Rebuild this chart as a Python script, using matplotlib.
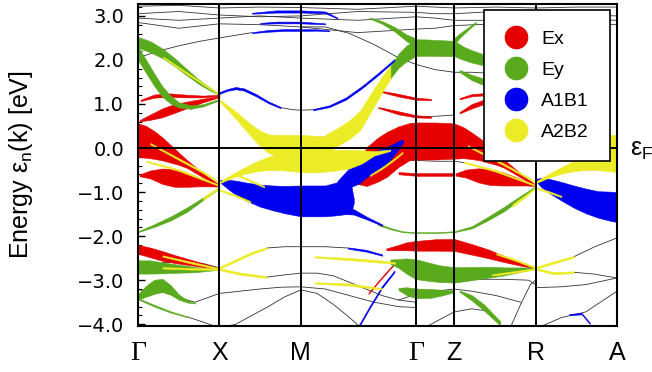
"""Fat-band plot: orbital character (Ex, Ey, A1B1, A2B2) along Γ-X-M-Γ-Z-R-A."""

import matplotlib
matplotlib.use("Agg")
import matplotlib.pyplot as plt
import numpy as np
from matplotlib.lines import Line2D
from matplotlib.ticker import MultipleLocator, FuncFormatter

plt.rcParams["font.family"] = ["Liberation Sans", "DejaVu Sans"]
plt.rcParams["mathtext.fontset"] = "custom"
plt.rcParams["mathtext.rm"] = "Liberation Sans"
plt.rcParams["mathtext.it"] = "Liberation Sans:italic"

OUT = "out.png"

# high-symmetry points (path length, |ΓX| = 1)
KPT_LABELS = ["Γ", "X", "M", "Γ", "Z", "R", "A"]
KPT_POS = [0.0, 1.0, 2.0, 3.414, 3.884, 4.884, 5.884]

ORBITALS = ["Ex", "Ey", "A1B1", "A2B2"]
COLORS = ["#e60000", "#5aaa1e", "#0000f0", "#ecec26"]

# fat bands: (k, E [eV], weight drawn as width [eV])
EX_BANDS = [
    ([0, 0.1, 0.2, 0.3, 0.4, 0.5, 0.6, 0.8, 1.0],
     [0.18, 0.14, 0.07, -0.02, -0.13, -0.24, -0.36, -0.62, -0.85],
     [0.77, 0.72, 0.63, 0.52, 0.4, 0.28, 0.18, 0.09, 0.03]),
    ([0.02, 0.15, 0.3, 0.45, 0.6, 0.75, 0.9, 1.0],
     [-0.62, -0.6, -0.64, -0.68, -0.72, -0.77, -0.83, -0.86],
     [0.04, 0.18, 0.35, 0.4, 0.32, 0.2, 0.08, 0.03]),
    ([0.03, 0.2, 0.4, 0.6, 0.8, 1.0],
     [1.08, 1.18, 1.2, 1.18, 1.17, 1.2],
     [0.03, 0.07, 0.08, 0.06, 0.04, 0.02]),
    ([0.02, 0.15, 0.3, 0.45, 0.6, 0.8, 1.0],
     [0.62, 0.7, 0.8, 0.9, 0.98, 1.08, 1.17],
     [0.03, 0.12, 0.2, 0.2, 0.15, 0.08, 0.03]),
    ([0, 0.15, 0.3, 0.45, 0.6, 0.8, 1.0],
     [-2.3, -2.37, -2.45, -2.52, -2.58, -2.66, -2.74],
     [0.2, 0.22, 0.22, 0.18, 0.14, 0.08, 0.03]),
    ([2.62, 2.72, 2.81, 2.95, 3.06, 3.2, 3.34, 3.414, 3.65, 3.884],
     [-0.75, -0.55, -0.42, -0.26, -0.14, 0.03, 0.15, 0.16, 0.16, 0.16],
     [0.08, 0.55, 0.88, 1.0, 1.02, 0.92, 0.84, 0.84, 0.84, 0.8]),
    ([3.884, 4.0, 4.1, 4.2, 4.3, 4.4, 4.5, 4.7, 4.884],
     [0.16, 0.12, 0.05, -0.03, -0.13, -0.24, -0.36, -0.62, -0.85],
     [0.8, 0.7, 0.6, 0.5, 0.4, 0.28, 0.18, 0.09, 0.03]),
    ([3.9, 4.03, 4.18, 4.33, 4.48, 4.63, 4.78, 4.884],
     [-0.6, -0.58, -0.62, -0.66, -0.7, -0.75, -0.81, -0.85],
     [0.05, 0.18, 0.32, 0.36, 0.3, 0.2, 0.08, 0.03]),
    ([3.2, 3.414, 3.65, 3.884],
     [-0.57, -0.6, -0.6, -0.6],
     [0.05, 0.06, 0.06, 0.06]),
    ([2.95, 3.2, 3.414, 3.6], [1.3, 1.2, 1.12, 1.1], [0.02, 0.06, 0.05, 0.03]),
    ([2.95, 3.2, 3.414, 3.6], [0.92, 0.8, 0.72, 0.7], [0.02, 0.07, 0.05, 0.03]),
    ([3.95, 4.1, 4.25], [0.8, 0.95, 1.05], [0.03, 0.1, 0.1]),
    ([3.95, 4.1, 4.25], [1.12, 1.2, 1.22], [0.03, 0.05, 0.05]),
    ([3.05, 3.2, 3.3, 3.414, 3.65, 3.884],
     [-2.3, -2.26, -2.23, -2.22, -2.2, -2.2],
     [0.04, 0.12, 0.18, 0.22, 0.26, 0.27]),
    ([3.884, 4.1, 4.3, 4.5, 4.7, 4.884],
     [-2.2, -2.3, -2.4, -2.52, -2.63, -2.72],
     [0.27, 0.24, 0.2, 0.14, 0.08, 0.03]),
    ([2.83, 3.0, 3.16], [-3.3, -2.93, -2.6], [0.03, 0.03, 0.03]),
]

EY_BANDS = [
    ([0, 0.15, 0.3, 0.45, 0.6, 0.75, 0.9, 1.0],
     [2.4, 2.3, 2.15, 1.95, 1.72, 1.5, 1.32, 1.22],
     [0.25, 0.25, 0.22, 0.18, 0.14, 0.1, 0.06, 0.03]),
    ([0, 0.1, 0.2, 0.3, 0.4, 0.5, 0.65, 0.8, 1.0],
     [2.15, 1.85, 1.55, 1.28, 1.1, 0.98, 0.93, 0.97, 1.1],
     [0.3, 0.3, 0.28, 0.24, 0.18, 0.12, 0.08, 0.05, 0.03]),
    ([0, 0.2, 0.4, 0.6, 0.8, 1.0],
     [-1.9, -1.76, -1.6, -1.4, -1.15, -0.9],
     [0.02, 0.06, 0.09, 0.1, 0.06, 0.03]),
    ([0, 0.15, 0.3, 0.5, 0.7, 0.85, 1.0],
     [-2.7, -2.7, -2.72, -2.74, -2.76, -2.76, -2.75],
     [0.3, 0.3, 0.25, 0.18, 0.12, 0.06, 0.02]),
    ([0, 0.1, 0.2, 0.3, 0.4, 0.5, 0.6, 0.7],
     [-3.38, -3.25, -3.15, -3.12, -3.22, -3.38, -3.48, -3.52],
     [0.12, 0.25, 0.32, 0.3, 0.22, 0.12, 0.05, 0.02]),
    ([0, 0.2, 0.4, 0.6], [-3.42, -3.58, -3.72, -3.83], [0.03, 0.04, 0.03, 0.02]),
    ([3.1, 3.2, 3.3, 3.414, 3.55, 3.7, 3.884],
     [1.72, 1.98, 2.15, 2.28, 2.28, 2.27, 2.26],
     [0.28, 0.32, 0.36, 0.38, 0.37, 0.36, 0.35]),
    ([2.85, 3.0, 3.15, 3.3, 3.414],
     [2.95, 2.85, 2.7, 2.5, 2.4],
     [0.03, 0.06, 0.1, 0.15, 0.18]),
    ([3.884, 4.0, 4.1, 4.25], [2.26, 2.15, 2.08, 2.0], [0.35, 0.3, 0.28, 0.25]),
    ([3.884, 3.95, 4.05, 4.15], [2.42, 2.55, 2.7, 2.85], [0.15, 0.1, 0.06, 0.03]),
    ([3.95, 4.1, 4.25], [1.75, 1.6, 1.5], [0.05, 0.12, 0.15]),
    ([2.95, 3.1, 3.25, 3.414, 3.65, 3.884, 4.1, 4.3, 4.5, 4.7, 4.884],
     [-1.73, -1.83, -1.9, -1.92, -1.92, -1.9, -1.8, -1.6, -1.38, -1.12, -0.88],
     [0.04, 0.03, 0.02, 0.02, 0.02, 0.02, 0.05, 0.08, 0.1, 0.07, 0.03]),
    ([3.1, 3.2, 3.3, 3.414, 3.55, 3.7, 3.884, 4.1, 4.3, 4.5, 4.7, 4.884],
     [-2.58, -2.62, -2.68, -2.75, -2.8, -2.85, -2.88, -2.85, -2.82, -2.8, -2.76, -2.73],
     [0.1, 0.2, 0.35, 0.45, 0.42, 0.38, 0.35, 0.3, 0.25, 0.18, 0.1, 0.03]),
    ([3.2, 3.3, 3.414, 3.6, 3.75, 3.884],
     [-3.2, -3.25, -3.3, -3.3, -3.28, -3.25],
     [0.05, 0.18, 0.22, 0.2, 0.12, 0.04]),
    ([3.95, 4.1, 4.25, 4.45], [-3.25, -3.4, -3.62, -3.98], [0.03, 0.12, 0.14, 0.1]),
]

A1B1_BANDS = [
    ([1.0, 1.1, 1.2, 1.35, 1.5, 1.65, 1.8, 2.0, 2.15, 2.3, 2.45, 2.55, 2.62, 2.65],
     [-0.75, -0.82, -0.9, -1.0, -1.08, -1.13, -1.17, -1.2, -1.2, -1.2, -1.15, -1.1, -1.15, -1.2],
     [0.04, 0.2, 0.32, 0.42, 0.5, 0.56, 0.62, 0.7, 0.7, 0.7, 0.75, 0.8, 0.6, 0.1]),
    ([2.45, 2.6, 2.72, 2.81, 2.95, 3.06, 3.15, 3.22, 3.26],
     [-0.9, -0.67, -0.55, -0.41, -0.27, -0.16, -0.02, 0.1, 0.16],
     [0.3, 0.45, 0.5, 0.5, 0.45, 0.38, 0.25, 0.15, 0.04]),
    ([2.55, 2.65, 2.81, 3.0], [-1.4, -1.45, -1.59, -1.75], [0.2, 0.12, 0.06, 0.03]),
    ([4.884, 4.95, 5.05, 5.2, 5.35, 5.5, 5.65, 5.8, 5.884],
     [-0.72, -0.78, -0.86, -0.98, -1.1, -1.2, -1.28, -1.32, -1.34],
     [0.04, 0.2, 0.32, 0.42, 0.5, 0.56, 0.6, 0.66, 0.68]),
    ([1.0, 1.1, 1.2, 1.3, 1.45, 1.6, 1.75],
     [1.25, 1.32, 1.36, 1.33, 1.2, 1.04, 0.92],
     [0.04, 0.04, 0.05, 0.05, 0.05, 0.04, 0.03]),
    ([2.15, 2.35, 2.55, 2.75, 2.95, 3.15],
     [0.87, 0.95, 1.12, 1.38, 1.68, 2.0],
     [0.03, 0.04, 0.05, 0.05, 0.05, 0.04]),
    ([1.4, 1.6, 1.8, 2.0, 2.2, 2.35],
     [2.62, 2.66, 2.68, 2.68, 2.68, 2.66],
     [0.02, 0.04, 0.04, 0.04, 0.03, 0.02]),
    ([1.5, 1.7, 2.0, 2.3], [2.83, 2.85, 2.85, 2.82], [0.02, 0.04, 0.04, 0.02]),
    ([1.4, 1.7, 2.0, 2.3, 2.45], [3.06, 3.1, 3.1, 3.08, 2.95],
     [0.02, 0.05, 0.05, 0.04, 0.02]),
    ([2.71, 2.85, 3.0, 3.15], [-4.05, -3.6, -3.15, -2.8], [0.05, 0.05, 0.05, 0.04]),
    ([2.58, 2.8, 3.0], [-2.27, -2.33, -2.43], [0.03, 0.04, 0.03]),
    ([5.3, 5.45, 5.55], [-3.78, -3.76, -3.98], [0.03, 0.03, 0.03]),
]

A2B2_BANDS = [
    ([1.0, 1.1, 1.2, 1.3, 1.4, 1.5, 1.6, 1.7, 1.8, 1.9, 2.0, 2.15, 2.3, 2.4],
     [1.08, 0.92, 0.75, 0.56, 0.38, 0.22, 0.1, 0.06, 0.03, 0.01, 0.0, -0.02, -0.02, 0.02],
     [0.04, 0.1, 0.16, 0.22, 0.28, 0.35, 0.42, 0.48, 0.54, 0.58, 0.6, 0.6, 0.58, 0.5]),
    ([1.0, 1.15, 1.3, 1.45, 1.6, 1.75, 1.9, 2.0, 2.2, 2.4, 2.6, 2.75, 2.9, 3.1],
     [-0.78, -0.64, -0.52, -0.42, -0.35, -0.31, -0.3, -0.3, -0.3, -0.28, -0.25, -0.2, -0.12, -0.05],
     [0.04, 0.08, 0.14, 0.22, 0.3, 0.38, 0.45, 0.5, 0.5, 0.48, 0.42, 0.3, 0.1, 0.03]),
    ([2.3, 2.45, 2.6, 2.73, 2.9, 3.0, 3.1],
     [0.1, 0.25, 0.42, 0.63, 1.15, 1.45, 1.72],
     [0.4, 0.4, 0.42, 0.44, 0.4, 0.35, 0.3]),
    ([4.884, 4.984, 5.084, 5.184, 5.284, 5.384, 5.484, 5.584, 5.684, 5.784, 5.884],
     [1.08, 0.92, 0.75, 0.56, 0.38, 0.22, 0.1, 0.06, 0.03, 0.01, 0.0],
     [0.04, 0.1, 0.16, 0.22, 0.28, 0.35, 0.42, 0.48, 0.54, 0.58, 0.6]),
    ([4.884, 5.034, 5.184, 5.334, 5.484, 5.634, 5.784, 5.884],
     [-0.78, -0.64, -0.52, -0.42, -0.35, -0.31, -0.3, -0.3],
     [0.04, 0.08, 0.14, 0.22, 0.3, 0.38, 0.45, 0.5]),
    # thin strands
    ([1.0, 1.2, 1.4, 1.58], [-2.72, -2.55, -2.38, -2.27], [0.04, 0.05, 0.05, 0.04]),
    ([1.0, 1.25, 1.58], [-2.75, -2.85, -2.93], [0.04, 0.05, 0.04]),
    ([0.8, 0.9, 1.0], [-1.15, -1.02, -0.9], [0.06, 0.05, 0.03]),
    ([0.15, 0.5, 0.8, 1.0], [0.1, -0.25, -0.55, -0.78], [0.03, 0.04, 0.04, 0.03]),
    ([0.1, 0.5, 1.0], [-0.3, -0.5, -0.85], [0.03, 0.04, 0.03]),
    ([1.0, 1.2, 1.38], [-0.95, -1.08, -1.22], [0.03, 0.04, 0.03]),
    ([1.2, 1.38, 1.55], [-0.6, -0.74, -0.88], [0.03, 0.04, 0.03]),
    ([0.31, 0.6, 0.97], [2.06, 1.7, 1.25], [0.03, 0.04, 0.03]),
    ([2.85, 3.0, 3.15, 3.25], [-0.62, -0.45, -0.25, -0.1], [0.03, 0.04, 0.04, 0.03]),
    ([2.17, 2.6, 3.0, 3.16], [-2.47, -2.52, -2.58, -2.61], [0.03, 0.05, 0.05, 0.03]),
    ([2.17, 2.6, 3.0], [-3.06, -3.1, -3.2], [0.03, 0.05, 0.03]),
    ([4.884, 5.1, 5.35], [-2.72, -2.6, -2.47], [0.04, 0.05, 0.04]),
    ([4.884, 5.1, 5.35], [-2.74, -2.84, -2.82], [0.04, 0.05, 0.04]),
    ([4.6, 4.75, 4.884], [-1.3, -1.1, -0.9], [0.06, 0.05, 0.03]),
    ([4.884, 5.05, 5.2], [-0.9, -1.0, -1.1], [0.03, 0.04, 0.03]),
    ([4.05, 4.4, 4.7, 4.884], [0.05, -0.28, -0.58, -0.78], [0.03, 0.04, 0.04, 0.03]),
    ([4.0, 4.4, 4.884], [-0.32, -0.52, -0.85], [0.03, 0.04, 0.03]),
    ([4.4, 4.65, 4.884], [-2.4, -2.55, -2.72], [0.03, 0.04, 0.03]),
    ([4.35, 4.6, 4.884], [-2.88, -2.82, -2.74], [0.03, 0.04, 0.03]),
    ([0.3, 0.65, 1.0], [-2.45, -2.6, -2.74], [0.03, 0.04, 0.03]),
    ([0.3, 0.65, 1.0], [-2.72, -2.74, -2.75], [0.03, 0.04, 0.03]),
]

# bands with no marked character (thin black lines)
TOP_K = [0, 0.5, 1.0, 1.5, 2.0, 2.7, 3.414, 3.65, 3.884, 4.4, 4.884, 5.4, 5.884]
THIN_BANDS = [
    (TOP_K, [3.22, 3.24, 3.18, 3.2, 3.19, 3.15, 3.22, 3.2, 3.18, 3.2, 3.18, 3.2, 3.2]),
    (TOP_K, [3.05, 3.1, 3.02, 2.98, 3.0, 3.1, 3.08, 3.05, 3.05, 3.1, 3.05, 3.02, 3.0]),
    (TOP_K, [2.95, 2.9, 2.95, 3.0, 2.95, 2.9, 2.98, 2.95, 2.9, 2.9, 2.95, 2.92, 2.9]),
    (TOP_K, [2.85, 2.72, 2.82, 2.8, 2.75, 2.62, 2.7, 2.72, 2.78, 2.82, 2.8, 2.82, 2.8]),
    ([0, 0.25, 0.5, 0.75, 1.0, 1.4], [2.05, 2.2, 2.32, 2.42, 2.5, 2.62]),
    ([2.0, 2.3, 2.6, 2.9, 3.2, 3.414, 3.65, 3.884, 4.1, 4.3],
     [2.75, 2.75, 2.6, 2.35, 2.05, 1.9, 1.78, 1.72, 1.72, 1.7]),
    ([1.75, 1.9, 2.0, 2.15], [0.92, 0.87, 0.86, 0.87]),
    ([3.0, 3.2, 3.414, 3.65, 3.884], [0.9, 0.8, 0.72, 0.72, 0.75]),
    ([3.2, 3.414, 3.65, 3.884, 4.0], [-0.28, -0.28, -0.3, -0.3, -0.33]),
    ([0.3, 0.6, 0.8, 1.0], [-2.6, -2.58, -2.62, -2.72]),
    ([1.58, 1.8, 2.0, 2.3, 2.58], [-2.27, -2.24, -2.24, -2.24, -2.27]),
    ([1.58, 1.8, 2.0, 2.2, 2.4, 2.6, 2.8, 3.0, 3.2, 3.414],
     [-2.93, -2.88, -2.84, -2.84, -2.9, -3.05, -3.2, -3.35, -3.45, -3.5]),
    ([0, 0.3, 0.55, 0.7, 0.85, 1.0, 1.25, 1.5, 1.75, 2.0, 2.3, 2.6, 2.9, 3.2, 3.414],
     [-3.22, -3.25, -3.42, -3.5, -3.4, -3.3, -3.25, -3.2, -3.16, -3.15, -3.2, -3.35, -3.5, -3.6, -3.62]),
    ([0.6, 0.8, 1.0, 1.2, 1.4, 1.6, 1.8, 2.0, 2.2, 2.4, 2.6, 2.75],
     [-3.83, -3.95, -4.08, -4.0, -3.8, -3.6, -3.38, -3.22, -3.3, -3.55, -3.85, -4.1]),
    ([3.414, 3.65, 3.884, 4.2, 4.5, 4.8, 4.884], [-2.95, -2.95, -2.95, -2.98, -2.98, -3.0, -3.1]),
    ([3.2, 3.414, 3.65, 3.884, 4.1, 4.4, 4.7], [-3.45, -3.32, -3.25, -3.2, -3.25, -3.35, -3.5]),
    ([3.55, 3.75, 3.884, 4.1, 4.3], [-4.05, -3.85, -3.72, -3.65, -3.7]),
    ([4.58, 4.7, 4.82, 4.884], [-4.05, -3.55, -3.1, -3.0]),
    ([5.35, 5.6, 5.884], [-2.47, -2.25, -2.04]),
    ([5.35, 5.6, 5.884], [-2.82, -2.86, -2.95]),
    ([4.884, 5.2, 5.5, 5.884], [-3.17, -3.15, -3.1, -2.95]),
    ([4.95, 5.2, 5.5, 5.884], [-4.05, -3.85, -3.72, -3.25]),
]


def fat(ax, k, e, w, color, z):
    k, e, w = np.asarray(k), np.asarray(e), np.asarray(w)
    ax.fill_between(k, e - w / 2, e + w / 2, color=color, ec=color, lw=0.4, zorder=z)


def main():
    fig = plt.figure(figsize=(6.52, 3.72), dpi=100)
    ax = fig.add_axes([138 / 652, 1 - 326 / 372, 479 / 652, 322 / 372])

    for k, e in THIN_BANDS:
        ax.plot(k, e, color="#333333", lw=0.6, zorder=1)

    for z, (bands, c) in enumerate(zip([EX_BANDS, EY_BANDS, A1B1_BANDS, A2B2_BANDS], COLORS)):
        for k, e, w in bands:
            fat(ax, k, e, w, c, 2 + z)

    for kp in KPT_POS[1:-1]:
        ax.axvline(kp, color="k", lw=1.4, zorder=8)
    ax.axhline(0, color="k", lw=1.4, zorder=8)

    ax.set_xlim(KPT_POS[0], KPT_POS[-1])
    ax.set_ylim(-4.04, 3.27)
    for s in ax.spines.values():
        s.set_linewidth(1.5)
        s.set_zorder(9)

    ax.set_xticks(KPT_POS)
    ax.set_xticklabels(KPT_LABELS)
    ax.tick_params(axis="x", length=0, pad=11, labelsize=18)
    for t in ax.get_xticklabels():
        if t.get_text() == "Γ":
            t.set_fontfamily("Liberation Serif")
            t.set_fontsize(20)

    ax.yaxis.set_major_locator(MultipleLocator(1.0))
    ax.yaxis.set_minor_locator(MultipleLocator(0.2))
    ax.yaxis.set_major_formatter(FuncFormatter(lambda v, p: f"{v:.1f}".replace("-", "\u2212")))
    ax.tick_params(axis="y", which="both", direction="in", pad=10, labelsize=14)
    ax.tick_params(axis="y", which="major", length=5, width=1)
    ax.tick_params(axis="y", which="minor", length=3, width=0.8)
    for t in ax.get_yticklabels():
        t.set_fontfamily("DejaVu Sans")

    ax.set_ylabel(r"Energy ε$_\mathrm{n}$(k) [eV]", fontsize=18)
    ax.yaxis.set_label_coords(-0.215, 0.5)

    fig.text(630 / 652, 1 - 150 / 372, r"ε$_\mathrm{F}$", fontsize=18, va="center", ha="left")

    handles = [Line2D([], [], ls="none", marker="o", ms=16, mfc=c, mec=c, label=l)
               for l, c in zip(ORBITALS, COLORS)]
    leg = ax.legend(handles=handles, loc="upper left", bbox_to_anchor=(0.7223, 0.9814),
                    borderaxespad=0, fontsize=14, fancybox=False, edgecolor="k",
                    framealpha=1, borderpad=1.05, labelspacing=0.68,
                    handlelength=1.2, handletextpad=0.7)
    leg.get_frame().set_linewidth(1.2)
    leg.set_zorder(20)

    fig.savefig(OUT, dpi=100)


if __name__ == "__main__":
    main()
